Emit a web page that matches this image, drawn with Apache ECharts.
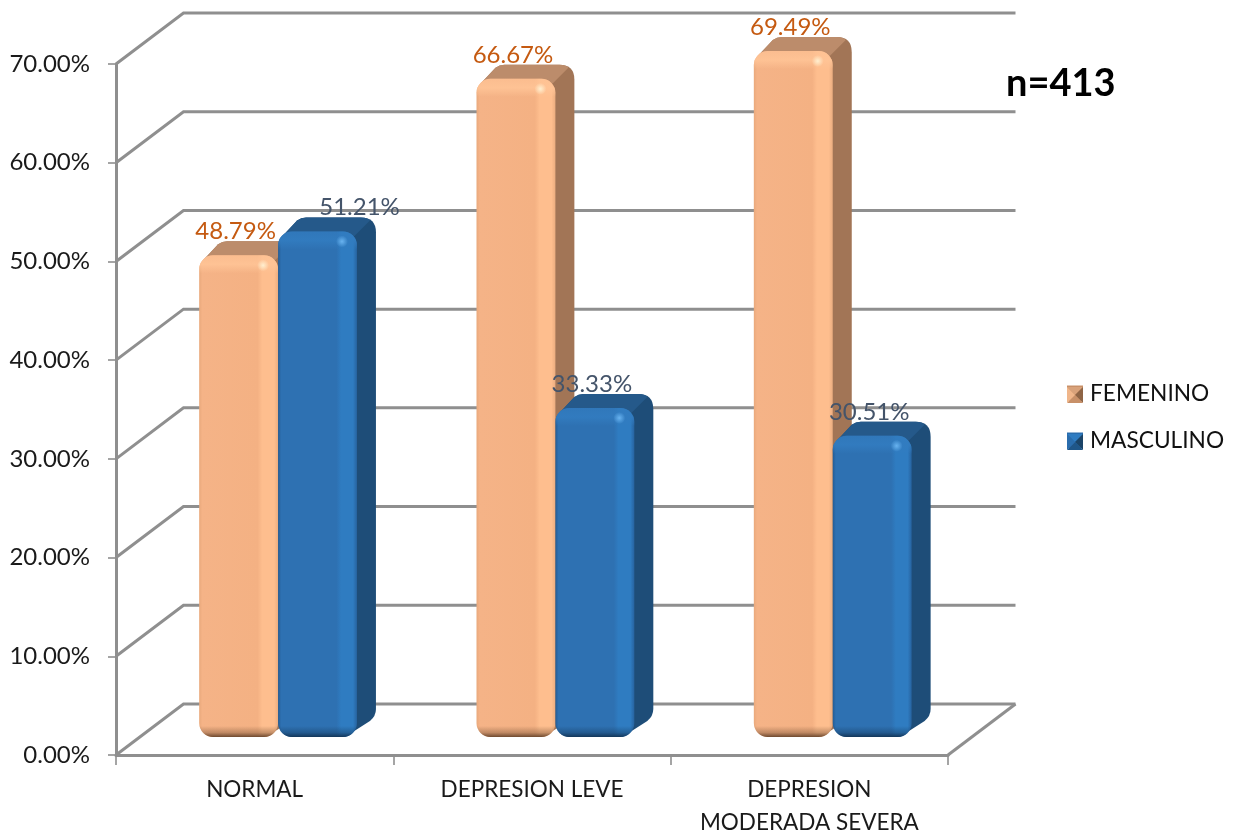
<!DOCTYPE html>
<html>
<head>
<meta charset="utf-8">
<style>html,body{margin:0;padding:0;background:#fff}#chart{width:1238px;height:835px}</style>
<script src="https://cdn.jsdelivr.net/npm/echarts@6/dist/echarts.min.js"></script>
</head>
<body>
<div id="chart"></div>
<script>
// Depression level by sex, drawn as a pseudo-3D clustered column chart.
const categories = ['NORMAL', 'DEPRESION LEVE', 'DEPRESION\nMODERADA SEVERA'];
const femenino = [48.79, 66.67, 69.49];
const masculino = [51.21, 33.33, 30.51];
const yTicks = [0, 10, 20, 30, 40, 50, 60, 70];
const sampleSize = 'n=413';

const FONT = 'Lato, "Open Sans", sans-serif';
const GRID_COLOR = '#8f8f8f';

// Depth of the box the chart stands in, and of each column within it.
const WALL = { dx: 67.5, dy: 51 };
const BAR = { dx: 19, dy: 14, shiftX: 23.4, shiftY: 18, widthRatio: 0.2845, r: 14 };

const FEMALE_LOOK = {
  side: '#A27556', top: '#BC8C6B', edge: '#6F4A30', label: '#C55A11',
  h: [[0, '#E9A97C'], [0.04, '#F5B387'], [0.74, '#F4B183'], [0.8, '#FEBE8E'], [0.95, '#FEBE8E'], [1, '#EBAD80']],
  topGlow: 'rgba(255,196,150,', spot: 'rgba(255,244,214,'
};
const MALE_LOOK = {
  side: '#1E4D78', top: '#25598A', edge: '#14375A', label: '#44546A',
  h: [[0, '#245C94'], [0.04, '#2E71B2'], [0.74, '#2E71B2'], [0.8, '#2F7CC1'], [0.95, '#2F7CC1'], [1, '#27639F']],
  topGlow: 'rgba(50,124,192,', spot: 'rgba(110,185,245,'
};

function stops(list) {
  return list.map(function (s) { return { offset: s[0], color: s[1] }; });
}

// One column: silhouette (side), top face, bevelled front face, value label.
function columnRenderer(look, slot, labelShift) {
  return function (params, api) {
    const i = api.value(0);
    const v = api.value(1);
    const band = api.size([1, 0])[0];
    const w = band * BAR.widthRatio;
    const top = api.coord([i, v]);
    const base = api.coord([i, 0]);
    const x0 = top[0] + BAR.shiftX + (slot - 1) * w;
    const x1 = x0 + w;
    const y0 = top[1] - BAR.shiftY;
    const y1 = base[1] - BAR.shiftY;
    const h = y1 - y0;
    const dx = BAR.dx, dy = BAR.dy;

    const silhouette = [
      'M', x0 + 4, y0 + 5,
      'L', x0 + dx, y0 - dy + 3,
      'Q', x0 + dx + 4, y0 - dy, x0 + dx + 9, y0 - dy,
      'L', x1 + dx - 15, y0 - dy,
      'Q', x1 + dx, y0 - dy, x1 + dx, y0 - dy + 15,
      'L', x1 + dx, y1 - dy - 14,
      'Q', x1 + dx, y1 - dy - 7, x1 + dx - 6, y1 - dy - 2,
      'L', x1 - 12, y1,
      'L', x0 + 12, y1, 'Z'
    ].join(' ');
    const topFace = [
      'M', x0 + 4, y0 + 5,
      'L', x0 + dx, y0 - dy + 3,
      'Q', x0 + dx + 4, y0 - dy, x0 + dx + 9, y0 - dy,
      'L', x1 + dx - 15, y0 - dy,
      'Q', x1 + dx - 8, y0 - dy, x1 + dx - 6, y0 - dy + 3,
      'L', x1 - 3, y0 + 5, 'Z'
    ].join(' ');

    const rect = { x: x0, y: y0, width: w, height: h, r: BAR.r };
    const glow = 18 / h, edge = 11 / h;
    return {
      type: 'group',
      children: [
        { type: 'path', shape: { pathData: silhouette }, style: { fill: look.side } },
        { type: 'path', shape: { pathData: topFace }, style: { fill: look.top } },
        {
          type: 'rect', shape: rect,
          style: { fill: { type: 'linear', x: 0, y: 0, x2: 1, y2: 0, colorStops: stops(look.h) } }
        },
        {
          type: 'rect', shape: rect,
          style: {
            fill: {
              type: 'linear', x: 0, y: 0, x2: 0, y2: 1,
              colorStops: [
                { offset: 0, color: look.topGlow + '0.6)' },
                { offset: glow * 0.5, color: look.topGlow + '0.9)' },
                { offset: glow, color: look.topGlow + '0)' },
                { offset: 1 - edge, color: look.edge + '00' },
                { offset: 1 - edge * 0.4, color: look.edge + '66' },
                { offset: 1, color: look.edge }
              ]
            }
          }
        },
        {
          type: 'circle', shape: { cx: x1 - 15, cy: y0 + 10, r: 6 },
          style: {
            fill: {
              type: 'radial', x: 0.5, y: 0.5, r: 0.5,
              colorStops: [
                { offset: 0, color: look.spot + '0.9)' },
                { offset: 1, color: look.spot + '0)' }
              ]
            }
          }
        },
        {
          type: 'text', z2: 50,
          style: {
            text: v.toFixed(2) + '%', font: '24px ' + FONT, fill: look.label,
            x: x0 + w / 2 - 3 + (labelShift[i] || 0), y: top[1] - 42,
            align: 'center', verticalAlign: 'middle'
          }
        }
      ]
    };
  };
}

// Back wall rungs with their diagonal returns to the value axis.
function wallRenderer(params, api) {
  const v = api.value(1);
  const sys = params.coordSys;
  const y = api.coord([0, v])[1];
  const xl = sys.x, xr = sys.x + sys.width;
  const line = { stroke: GRID_COLOR, lineWidth: 3, fill: null };
  const children = [{
    type: 'polyline',
    shape: { points: [[xl, y], [xl + WALL.dx, y - WALL.dy], [xr + WALL.dx, y - WALL.dy]] },
    style: line
  }];
  if (v === 0) {
    children.push({
      type: 'line',
      shape: { x1: xr, y1: y, x2: xr + WALL.dx, y2: y - WALL.dy },
      style: line
    });
  }
  return { type: 'group', children: children };
}

// Small pyramid-shaded swatch used on the legend keys.
function pyramid(x, y, s, c) {
  const m = [x + s / 2, y + s / 2];
  const faces = [
    [[x, y], [x + s, y], m, c[0]],
    [[x + s, y], [x + s, y + s], m, c[1]],
    [[x + s, y + s], [x, y + s], m, c[2]],
    [[x, y + s], [x, y], m, c[3]]
  ];
  return faces.map(function (f) {
    return { type: 'polygon', z: 20, silent: true, shape: { points: [f[0], f[1], f[2]] }, style: { fill: f[3] } };
  });
}

const chart = echarts.init(document.getElementById('chart'));
chart.setOption({
  animation: false,
  backgroundColor: '#ffffff',
  title: {
    text: sampleSize, left: 1001, top: 60,
    textStyle: { fontFamily: FONT, fontSize: 38, fontWeight: 'bold', color: '#000' }
  },
  legend: {
    orient: 'vertical', left: 1067, top: 382, itemGap: 24, padding: 0,
    itemWidth: 16, itemHeight: 16, icon: 'rect', selectedMode: false,
    data: ['FEMENINO', 'MASCULINO'],
    textStyle: { fontFamily: FONT, fontSize: 22.7, color: '#111', padding: [0, 0, 0, 2] }
  },
  graphic: pyramid(1067, 387, 16, ['#D9A27A', '#8F6546', '#C89068', '#F0B68A'])
    .concat(pyramid(1067, 434, 16, ['#2F7CC1', '#1B4468', '#1F5688', '#2A6DAD'])),
  grid: { left: 116, right: 290, top: 64, bottom: 80, outerBoundsMode: 'none' },
  xAxis: {
    type: 'category', data: categories,
    axisLine: { lineStyle: { color: GRID_COLOR, width: 3 } },
    axisTick: { show: true, length: 10, alignWithLabel: false, lineStyle: { color: GRID_COLOR, width: 1.6 } },
    axisLabel: { interval: 0, margin: 18, fontFamily: FONT, fontSize: 22.5, lineHeight: 33, color: '#1a1a1a' }
  },
  yAxis: {
    type: 'value', min: yTicks[0], max: yTicks[yTicks.length - 1], interval: 10,
    axisLine: { show: true, lineStyle: { color: GRID_COLOR, width: 3 } },
    axisTick: { show: true, length: 8, lineStyle: { color: GRID_COLOR, width: 1.6 } },
    splitLine: { show: false },
    axisLabel: {
      margin: 26, fontFamily: FONT, fontSize: 24, color: '#1a1a1a',
      formatter: function (v) { return v.toFixed(2) + '%'; }
    }
  },
  series: [
    {
      name: 'wall', type: 'custom', z: 1, silent: true, clip: false,
      renderItem: wallRenderer, encode: { x: 0, y: 1 },
      data: yTicks.map(function (t) { return [0, t]; })
    },
    {
      name: 'FEMENINO', type: 'custom', z: 2, clip: false,
      itemStyle: { color: '#C89068' },
      renderItem: columnRenderer(FEMALE_LOOK, 0, []), encode: { x: 0, y: 1 },
      data: femenino.map(function (v, i) { return [i, v]; })
    },
    {
      name: 'MASCULINO', type: 'custom', z: 3, clip: false,
      itemStyle: { color: '#2A6DAD' },
      renderItem: columnRenderer(MALE_LOOK, 1, [45, 0, 0]), encode: { x: 0, y: 1 },
      data: masculino.map(function (v, i) { return [i, v]; })
    }
  ]
});
</script>
</body>
</html>
